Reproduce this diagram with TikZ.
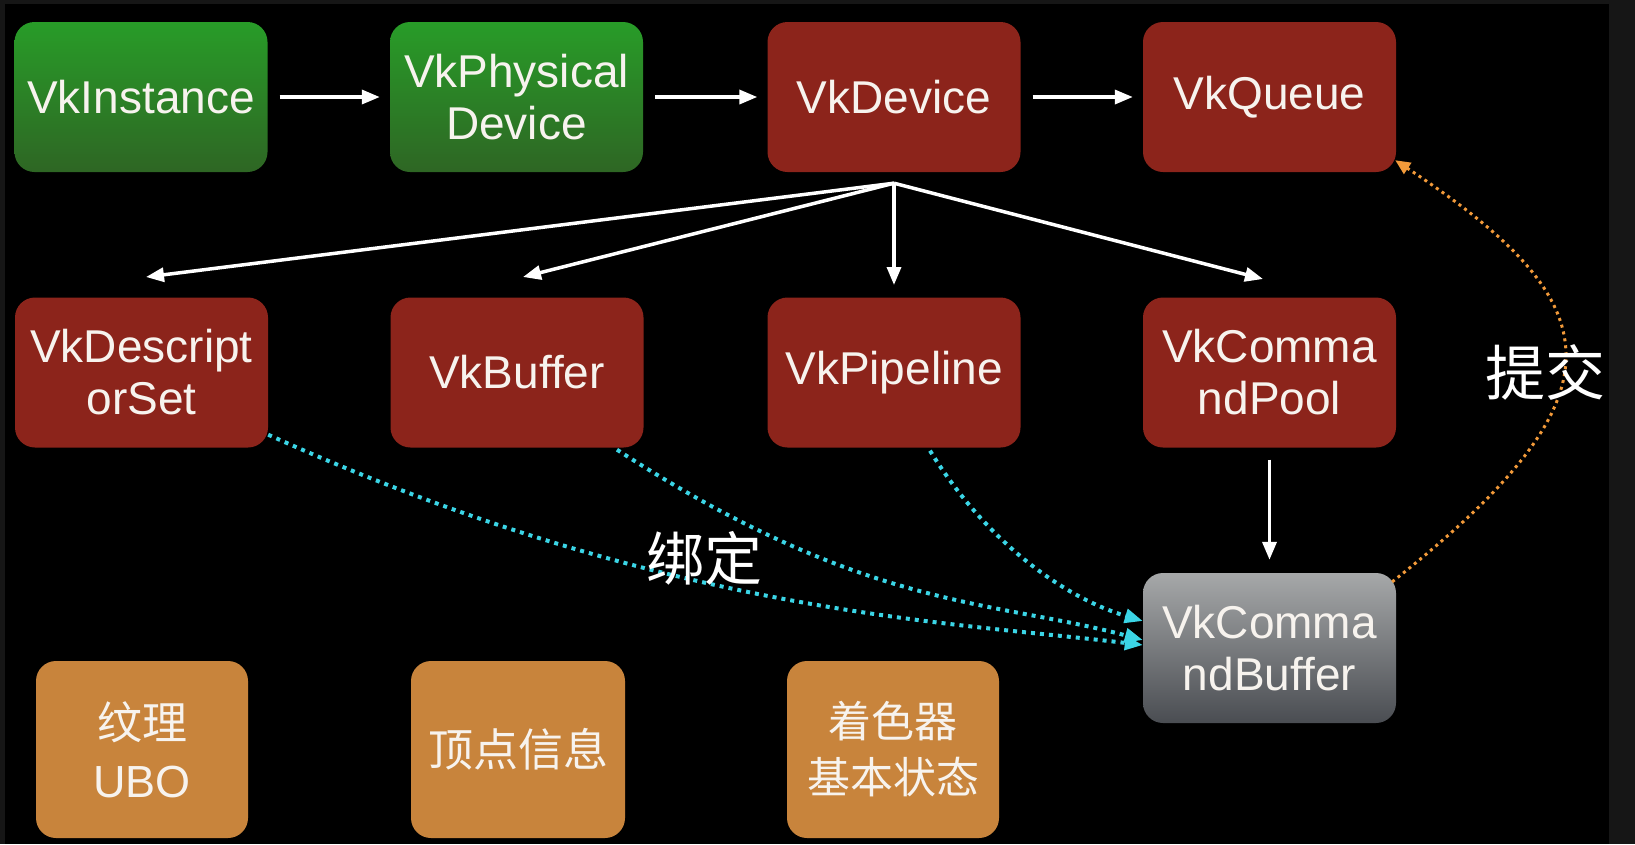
\documentclass[tikz,border=0pt]{standalone}
\usepackage{fontspec}
\setmainfont{Liberation Sans}
\newfontfamily\cjk{Noto Sans CJK SC}
\usetikzlibrary{arrows.meta,calc}
\definecolor{bgdark}{HTML}{161616}
\definecolor{greentop}{HTML}{289C28}
\definecolor{greenbot}{HTML}{2E6624}
\definecolor{redbox}{HTML}{8C241B}
\definecolor{orangebox}{HTML}{C8843C}
\definecolor{graytop}{HTML}{A6A8A9}
\definecolor{graybot}{HTML}{4A4D52}
\definecolor{cyanline}{HTML}{3BD5E6}
\definecolor{orangeline}{HTML}{F29A3A}
\definecolor{txt}{HTML}{F7F3EE}
\begin{document}
\begin{tikzpicture}[x=1pt,y=-1pt,
  box/.style={rounded corners=20pt, minimum width=253pt, minimum height=150pt,
    inner sep=0pt, text=txt, align=center, font=\fontsize{46}{52}\selectfont},
  greenbox/.style={box, top color=greentop, bottom color=greenbot},
  redbx/.style={box, fill=redbox},
  graybx/.style={box, top color=graytop, bottom color=graybot},
  orbox/.style={box, fill=orangebox, minimum width=212pt, minimum height=177pt,
    font=\cjk\fontsize{45}{58}\selectfont},
  arr/.style={draw=white, line width=3.5pt, -{Triangle[length=18pt,width=14pt]}},
  bindline/.style={draw=cyanline, line width=4pt, dash pattern=on 4pt off 5pt,
    -{Triangle[length=18pt,width=14pt,fill=cyanline]}},
  submitline/.style={draw=orangeline, line width=3pt, dash pattern=on 3pt off 4pt,
    -{Triangle[length=15pt,width=13pt,fill=orangeline]}},
  lbl/.style={text=white, inner sep=0pt}
]
\useasboundingbox (0,0) rectangle (1635,844);
\fill[bgdark] (0,0) rectangle (1635,844);
\fill[black] (5,4) rectangle (1609,844);

% row 1
\node[greenbox] (inst) at (141,97) {VkInstance};
\node[greenbox] (phys) at (516.5,97) {VkPhysical\\Device};
\node[redbx] (dev) at (894,97) {VkDevice};
\node[redbx] (queue) at (1269.5,97) {VkQueue};

% row 2
\node[redbx] (desc) at (141.5,372.5) {VkDescript\\orSet};
\node[redbx] (buf) at (517,372.5) {VkBuffer};
\node[redbx] (pipe) at (894,372.5) {VkPipeline};
\node[redbx] (pool) at (1269.5,372.5) {VkComma\\ndPool};

% command buffer
\node[graybx] (cmdbuf) at (1269.5,648) {VkComma\\ndBuffer};

% row 3
\node[orbox] (tex) at (142,749.5) {纹理\\{\fontspec{Liberation Sans}UBO}};
\node[orbox, minimum width=214pt] (vert) at (518,749.5) {顶点信息};
\node[orbox, font=\cjk\fontsize{43}{56}\selectfont] (shad) at (893,749.5) {着色器\\基本状态};

% row 1 arrows
\draw[arr, shorten <=12pt, shorten >=10pt] (inst.east) -- (phys.west);
\draw[arr, shorten <=12pt, shorten >=10pt] (phys.east) -- (dev.west);
\draw[arr, shorten <=12pt, shorten >=10pt] (dev.east) -- (queue.west);

% fan out from device
\coordinate (fan) at ([yshift=-11pt]dev.south);
\coordinate (tdesc) at (146,277);
\coordinate (tbuf) at (523,277);
\coordinate (tpipe) at (894,285);
\coordinate (tpool) at (1263,279);
\draw[arr] (fan) -- (tdesc);
\draw[arr] (fan) -- (tbuf);
\draw[arr] (fan) -- (tpipe);
\draw[arr] (fan) -- (tpool);

% pool -> command buffer
\draw[arr, shorten <=12pt, shorten >=13pt] (pool.south) -- (cmdbuf.north);

% bind lines
\draw[bindline] ([yshift=13pt]desc.south east) .. controls (667,614) and (942,621) .. ([yshift=3pt]cmdbuf.west);
\draw[bindline] ([xshift=100pt,yshift=-2pt]buf.south) .. controls (867,611.5) and (992,599.5) .. ([yshift=8pt]cmdbuf.west);
\draw[bindline] ([xshift=36pt,yshift=-3pt]pipe.south) .. controls (985,540) and (1062,597) .. ([yshift=27pt]cmdbuf.west);

% submit line
\draw[submitline] ([xshift=-4pt,yshift=-9pt]cmdbuf.north east) .. controls (1633,392) and (1610,302) .. ([xshift=-1pt,yshift=12pt]queue.south east);

% labels
\node[lbl, font=\cjk\fontsize{58}{58}\selectfont] (bind) at (704,558) {绑定};
\node[lbl, font=\cjk\fontsize{60}{60}\selectfont] (submit) at (1545,372) {提交};
\end{tikzpicture}
\end{document}
